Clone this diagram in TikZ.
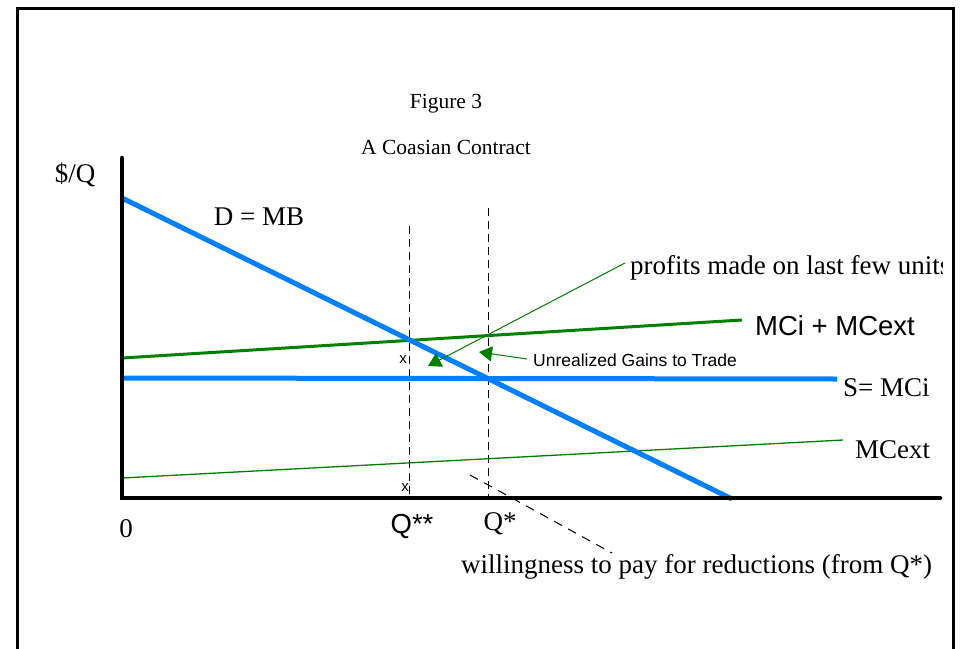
\documentclass[tikz,border=0pt]{standalone}
\usepackage{fontspec}
\setmainfont{Liberation Serif}
\newfontfamily\arialf{Liberation Sans}
\usetikzlibrary{arrows.meta}
\definecolor{cblue}{RGB}{0,128,255}
\definecolor{cgreen}{RGB}{0,128,0}
\tikzset{
  serif/.style={inner sep=0pt, font=\fontsize{27}{31}\selectfont},
  titletxt/.style={inner sep=0pt, font=\fontsize{21.5}{26}\selectfont},
  sanslbl/.style={inner sep=0pt, font=\arialf\fontsize{27.5}{32}\selectfont},
  smallsans/.style={inner sep=0pt, font=\arialf\fontsize{17.5}{21}\selectfont},
  xsans/.style={inner sep=0pt, font=\arialf\fontsize{15}{18}\selectfont},
  axisline/.style={line width=4.5pt, line cap=round},
  bluecurve/.style={cblue, line width=5pt},
  greenthick/.style={cgreen, line width=3pt},
  greenthin/.style={cgreen, line width=1.3pt},
  guide/.style={dash pattern=on 8pt off 5pt, line width=1pt},
  greenarrow/.style={cgreen, line width=1pt, -{Triangle[length=13pt,width=15pt]}},
}
\begin{document}
\begin{tikzpicture}[x=1pt,y=-1pt]
\useasboundingbox (0,0) rectangle (961,648);
\clip (0,0) rectangle (961,648);
\fill[white] (0,0) rectangle (961,648);
% frame
\draw[line width=3pt] (17,8) rectangle (953,700);

% coordinates
\coordinate (O) at (122,498);
\coordinate (ytop) at (122,158);
\coordinate (xend) at (940,498);
\coordinate (d1) at (122,198);
\coordinate (d2) at (732,499);
\coordinate (s1) at (122,378);
\coordinate (s2) at (837,379);
\coordinate (t1) at (122,358);
\coordinate (t2) at (742,320);
\coordinate (e1) at (122,478);
\coordinate (e2) at (843,440);
\coordinate (q2top) at (409,226);
\coordinate (q2bot) at (409,498);
\coordinate (q1top) at (488,208);
\coordinate (q1bot) at (488,498);
\coordinate (w1) at (470,475);
\coordinate (w2) at (612,553);
\coordinate (p1) at (625,263);
\coordinate (p2) at (428,366);
\coordinate (u1) at (527,359);
\coordinate (u2) at (479,352);

% guides
\draw[guide] (q2top) -- (q2bot);
\draw[guide] (q1top) -- (q1bot);
\draw[dash pattern=on 9pt off 7pt, line width=1pt] (w1) -- (w2);

% curves
\draw[greenthin] (e1) -- (e2);
\draw[greenthick] (t1) -- (t2);
\draw[bluecurve] (s1) -- (s2);
\draw[bluecurve] (d1) -- (d2);

% axes
\draw[axisline] (ytop) -- (O) -- (xend);

% arrows
\draw[greenarrow] (p1) -- (p2);
\draw[greenarrow] (u1) -- (u2);

% texts
\node[titletxt] (fig) at (446,104) {Figure 3};
\node[titletxt] (ttl) at (446,147) {A Coasian Contract};
\node[serif] (ylab) at (75,175) {\$/Q};
\node[serif] (dlab) at (259,217) {D = MB};
\begin{scope}
\clip (0,0) rectangle (942,648);
\node[serif, anchor=west] (plab) at (630,268) {profits made on last few units};
\end{scope}
\node[sanslbl, anchor=west] (tlab) at (755,326) {MCi + MCext};
\node[smallsans, anchor=west] (ulab) at (533,360) {Unrealized Gains to Trade};
\node[serif, anchor=west] (slab) at (843,388) {S= MCi};
\node[serif, anchor=west] (elab) at (855,450) {MCext};
\node[serif] (zero) at (126,529) {0};
\node[sanslbl] (qss) at (412,526) {Q**};
\node[serif] (qs) at (500,524) {Q*};
\node[serif, anchor=west] (wlab) at (461,567) {willingness to pay for reductions (from Q*)};
\node[xsans] (x1) at (403,360) {x};
\node[xsans] (x2) at (405,488) {x};
\end{tikzpicture}
\end{document}
